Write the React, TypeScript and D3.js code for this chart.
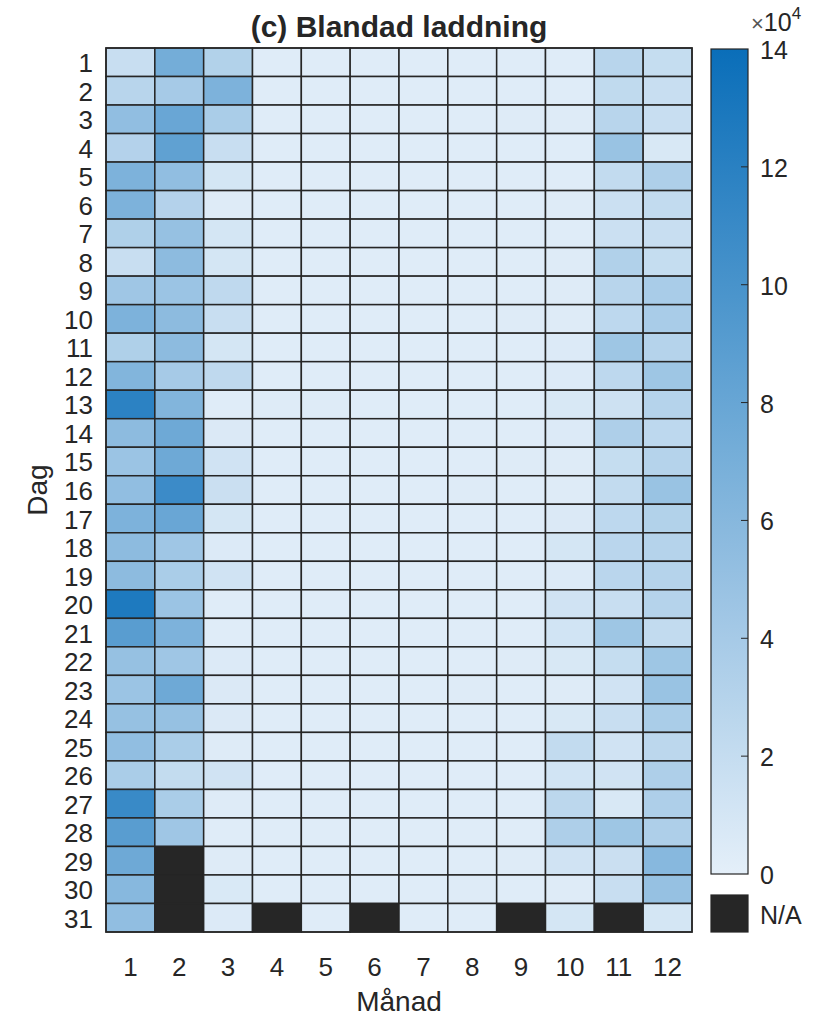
import React from "react";
import * as d3 from "d3";

const title = "(c) Blandad laddning";
const xLabel = "Månad";
const yLabel = "Dag";
const months = ["1", "2", "3", "4", "5", "6", "7", "8", "9", "10", "11", "12"];
const days = d3.range(1, 32).map(String);
const colorTicks = [0, 2, 4, 6, 8, 10, 12, 14];
const naLabel = "N/A";

// values in units of 1e4, null = N/A
const jan = [1.8, 2.8, 5.3, 3.1, 6.6, 6.6, 3.4, 1.8, 4.4, 6.6, 3.4, 6.3, 11.8, 5.6, 4.7, 5.3, 6.6, 5.6, 5.6, 12.7, 8.9, 5.0, 4.7, 5.0, 5.3, 3.7, 11.0, 8.9, 7.6, 6.0, 5.3];
const feb = [7.2, 4.0, 7.9, 8.5, 5.3, 3.1, 5.0, 5.6, 4.7, 5.6, 5.6, 4.0, 6.3, 7.6, 7.6, 10.8, 7.9, 4.4, 3.7, 4.7, 6.6, 4.4, 7.6, 5.0, 3.7, 2.1, 3.7, 4.4, null, null, null];
const mar = [3.2, 6.6, 3.7, 1.8, 1.0, 0.4, 1.0, 1.0, 2.4, 1.8, 1.0, 2.4, 0.3, 0.6, 1.3, 1.7, 1.0, 0.5, 1.3, 0.3, 0.3, 0.5, 0.6, 0.6, 0.4, 1.3, 0.4, 0.3, 0.4, 0.7, 0.5];
const apr = [0.3, 0.3, 0.3, 0.3, 0.3, 0.3, 0.3, 0.3, 0.3, 0.3, 0.3, 0.3, 0.4, 0.3, 0.3, 0.3, 0.3, 0.3, 0.3, 0.3, 0.3, 0.3, 0.3, 0.3, 0.3, 0.3, 0.3, 0.3, 0.3, 0.3, null];
const may = [0.3, 0.3, 0.3, 0.3, 0.3, 0.3, 0.3, 0.3, 0.3, 0.3, 0.3, 0.3, 0.4, 0.3, 0.3, 0.3, 0.3, 0.3, 0.3, 0.3, 0.3, 0.3, 0.3, 0.3, 0.3, 0.3, 0.3, 0.3, 0.3, 0.3, 0.3];
const jun = [0.3, 0.3, 0.3, 0.3, 0.3, 0.3, 0.3, 0.3, 0.3, 0.3, 0.3, 0.3, 0.3, 0.3, 0.3, 0.3, 0.3, 0.3, 0.3, 0.3, 0.3, 0.3, 0.3, 0.3, 0.3, 0.3, 0.3, 0.3, 0.3, 0.3, null];
const jul = [0.3, 0.3, 0.3, 0.3, 0.3, 0.3, 0.3, 0.3, 0.3, 0.3, 0.3, 0.3, 0.3, 0.3, 0.3, 0.3, 0.3, 0.3, 0.3, 0.3, 0.3, 0.3, 0.3, 0.3, 0.3, 0.3, 0.3, 0.3, 0.3, 0.3, 0.3];
const aug = [0.3, 0.3, 0.3, 0.3, 0.3, 0.3, 0.3, 0.3, 0.3, 0.3, 0.3, 0.3, 0.3, 0.3, 0.3, 0.4, 0.3, 0.3, 0.3, 0.3, 0.3, 0.3, 0.4, 0.3, 0.3, 0.3, 0.3, 0.3, 0.3, 0.4, 0.3];
const sep = [0.3, 0.3, 0.4, 0.3, 0.3, 0.3, 0.3, 0.3, 0.3, 0.4, 0.3, 0.3, 0.3, 0.3, 0.4, 0.3, 0.3, 0.3, 0.3, 0.3, 0.3, 0.4, 0.3, 0.3, 0.3, 0.3, 0.3, 0.3, 0.4, 0.3, null];
const oct = [0.3, 0.3, 0.4, 0.3, 0.3, 0.4, 0.3, 0.4, 0.4, 0.4, 0.5, 0.5, 0.8, 0.5, 0.4, 0.4, 0.6, 1.0, 0.5, 1.3, 1.2, 0.8, 0.4, 0.8, 2.2, 1.2, 2.6, 3.5, 1.3, 0.4, 1.0];
const nov = [2.8, 2.3, 2.8, 4.8, 2.2, 1.6, 1.6, 3.3, 2.8, 2.5, 4.5, 2.5, 1.5, 3.5, 2.0, 2.2, 2.5, 2.7, 2.7, 1.8, 4.5, 2.0, 1.3, 1.8, 1.3, 1.3, 0.8, 4.5, 1.7, 1.8, null];
const dec = [2.0, 1.8, 1.8, 0.8, 3.5, 2.2, 1.8, 2.0, 3.8, 3.8, 3.0, 4.5, 3.0, 2.5, 3.0, 4.8, 3.2, 3.0, 3.0, 3.0, 2.2, 4.5, 4.8, 3.7, 2.6, 3.5, 3.5, 3.5, 6.0, 5.0, 1.0];

const monthValues = [jan, feb, mar, apr, may, jun, jul, aug, sep, oct, nov, dec];

const W = 827;
const H = 1019;
const gx0 = 106, gx1 = 692, gy0 = 48, gy1 = 932;
const cbx0 = 711, cbx1 = 748, cby0 = 49, cby1 = 874;
const naY0 = 895, naY1 = 932;
const textColor = "#262626";
const font = "'Liberation Sans', Arial, Helvetica, sans-serif";

export default function App() {
  const x = d3.scaleBand().domain(months).range([gx0, gx1]);
  const y = d3.scaleBand().domain(days).range([gy0, gy1]);
  const color = d3.scaleLinear<string>().domain([0, 14]).range(["#e4eff9", "#0a6eb9"]).interpolate(d3.interpolateRgb).clamp(true);
  const cb = d3.scaleLinear().domain([0, 14]).range([cby1, cby0]);

  const cells: { m: string; d: string; v: number | null }[] = [];
  monthValues.forEach((arr, mi) => {
    arr.forEach((v, di) => cells.push({ m: months[mi], d: days[di], v }));
  });

  const gradStops = d3.range(0, 1.0001, 0.1);

  return (
    <svg width={W} height={H} style={{ position: "absolute", left: 0, top: 0, background: "#fff" }} fontFamily={font}>
      <defs>
        <linearGradient id="cbgrad" x1="0" y1="1" x2="0" y2="0">
          {gradStops.map((t) => (
            <stop key={t} offset={t} stopColor={color(t * 14)} />
          ))}
        </linearGradient>
      </defs>
      <text x={(gx0 + gx1) / 2} y={37} textAnchor="middle" fontSize={30} fontWeight="bold" fill={textColor}>
        {title}
      </text>
      <g>
        {cells.map((c) => (
          <rect
            key={c.m + "-" + c.d}
            x={x(c.m)}
            y={y(c.d)}
            width={x.bandwidth()}
            height={y.bandwidth()}
            fill={c.v === null ? "#262626" : color(c.v)}
            stroke="#262626"
            strokeWidth={1.5}
          />
        ))}
        <rect x={gx0} y={gy0} width={gx1 - gx0} height={gy1 - gy0} fill="none" stroke="#262626" strokeWidth={1.5} />
      </g>
      <g fontSize={26} fill={textColor}>
        {days.map((d) => (
          <text key={d} x={93} y={(y(d) as number) + y.bandwidth() / 2 + 1} textAnchor="end" dominantBaseline="central">
            {d}
          </text>
        ))}
        {months.map((m) => (
          <text key={m} x={(x(m) as number) + x.bandwidth() / 2} y={967} textAnchor="middle" dominantBaseline="central">
            {m}
          </text>
        ))}
      </g>
      <text x={(gx0 + gx1) / 2} y={1011} textAnchor="middle" fontSize={28} fill={textColor}>
        {xLabel}
      </text>
      <text transform={`translate(47,${(gy0 + gy1) / 2}) rotate(-90)`} textAnchor="middle" fontSize={28} fill={textColor}>
        {yLabel}
      </text>
      <g>
        <rect x={cbx0} y={cby0} width={cbx1 - cbx0} height={cby1 - cby0} fill="url(#cbgrad)" stroke="#262626" strokeWidth={1.2} />
        {colorTicks.map((t) => (
          <g key={t}>
            {t > 0 && t < 14 && <line x1={cbx1 - 7} x2={cbx1} y1={cb(t)} y2={cb(t)} stroke="#262626" strokeWidth={1} />}
            <text x={760} y={cb(t) + 1} dominantBaseline="central" fontSize={25} fill={textColor}>
              {t}
            </text>
          </g>
        ))}
        <text x={751} y={31} fontSize={25} fill={textColor}>
          <tspan fontSize={22} fill="#555">×</tspan>
          <tspan>10</tspan>
          <tspan dy={-12} fontSize={17}>4</tspan>
        </text>
        <rect x={cbx0} y={naY0} width={cbx1 - cbx0} height={naY1 - naY0} fill="#262626" stroke="#262626" strokeWidth={1.2} />
        <text x={760} y={(naY0 + naY1) / 2 + 1} dominantBaseline="central" fontSize={25} fill={textColor}>
          {naLabel}
        </text>
      </g>
    </svg>
  );
}
